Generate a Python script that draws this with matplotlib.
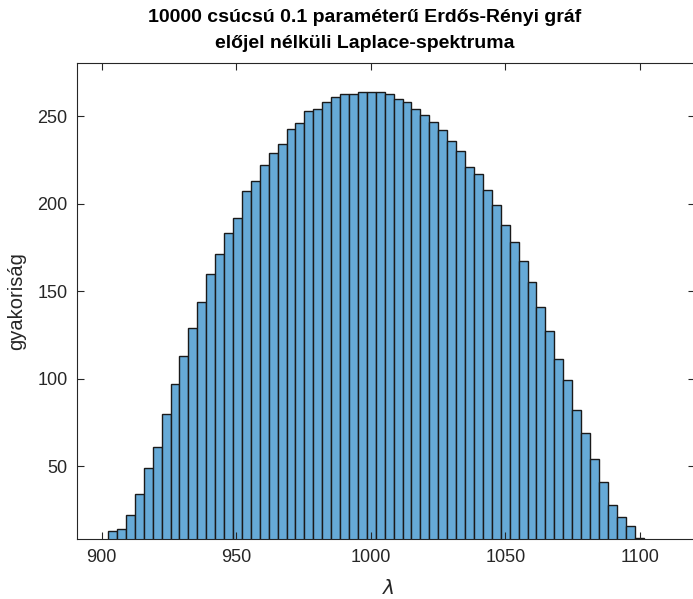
import numpy as np
import matplotlib
matplotlib.use("Agg")
import matplotlib.pyplot as plt

# Hisztogram adatai: első élek, binszélesség és a gyakoriságok
bin_start = 902.4
bin_width = 3.315
counts = [13, 14, 22, 34, 49, 61, 80, 97, 113, 129,
          144, 160, 171, 183, 192, 207, 213, 222, 229, 234,
          243, 246, 253, 254, 258, 261, 263, 263, 264, 264,
          264, 263, 260, 258, 254, 251, 247, 242, 236, 230,
          221, 217, 208, 199, 188, 178, 167, 155, 141, 127,
          111, 99, 82, 69, 54, 41, 28, 21, 16, 9]
xticks = [900, 950, 1000, 1050, 1100]
yticks = [50, 100, 150, 200, 250]

plt.rcParams['font.family'] = ['Liberation Sans', 'DejaVu Sans']
dark = '#262626'

fig = plt.figure(figsize=(6.93, 5.99), dpi=100)
# a tengely jobb széle kicsit a képen túl van
ax = fig.add_axes([0.1116, 0.1002, 0.8920, 0.7951])

left_edges = bin_start + bin_width * np.arange(len(counts))
ax.bar(left_edges, counts, width=bin_width, align='edge',
       color='#66AAD7', edgecolor='#1a1a1a', linewidth=1.0)

ax.set_xlim(891, 1120.6)
ax.set_ylim(8.4, 280.6)
ax.set_xticks(xticks)
ax.set_yticks(yticks)
ax.tick_params(direction='in', length=5, width=0.8, colors=dark,
               labelsize=13, top=True, right=True, pad=7)
for s in ax.spines.values():
    s.set_color(dark)
    s.set_linewidth(0.8)

ax.set_ylabel('gyakoriság', fontsize=14.5, color=dark, labelpad=8)
fig.text(388 / 693, 1 - 588 / 599, r'$\lambda$', fontsize=14.5, color=dark,
         ha='center', va='center')

fig.text(365 / 693, 1 - 18 / 599, '10000 csúcsú 0.1 paraméterű Erdős-Rényi gráf',
         fontsize=14, fontweight='bold', ha='center', va='center')
fig.text(365 / 693, 1 - 44 / 599, 'előjel nélküli Laplace-spektruma',
         fontsize=14, fontweight='bold', ha='center', va='center')

plt.savefig('out.png', dpi=100)
